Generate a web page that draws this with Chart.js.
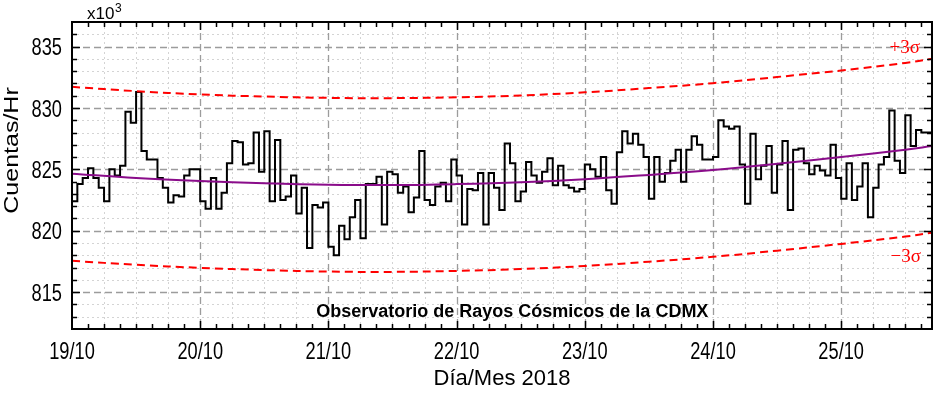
<!DOCTYPE html>
<html><head><meta charset="utf-8">
<script src="https://cdn.jsdelivr.net/npm/chart.js@4"></script>
<style>html,body{margin:0;padding:0;background:#fff}canvas{display:block}</style>
</head><body>
<canvas id="c" width="942" height="396"></canvas>
<script>
// ---- data ----
const dayLabels = ['19/10', '20/10', '21/10', '22/10', '23/10', '24/10', '25/10'];
const yTickValues = [815, 820, 825, 830, 835];
const yTitle = 'Cuentas/Hr';
const xTitle = 'Día/Mes 2018';
// hourly counts (x10^3 counts per hour), starting 19/10 00:00
const counts = [
  822.6, 822.4, 823.8, 824.3, 825.1, 824.3, 823.5, 822.4, 825.0, 824.5, 825.3, 829.7,
  828.8, 831.3, 826.5, 825.8, 825.8, 824.3, 823.5, 822.3, 822.9, 822.8, 824.5, 825.0,
  825.0, 822.4, 821.8, 824.3, 821.8, 823.1, 825.5, 827.3, 827.2, 825.4, 825.5, 828.0,
  824.8, 828.1, 822.4, 827.4, 822.5, 822.8, 824.5, 821.4, 823.5, 818.6, 822.1, 821.9,
  822.3, 818.7, 818.0, 820.4, 819.3, 821.1, 822.5, 819.4, 823.8, 823.8, 824.4, 820.5,
  824.8, 824.6, 823.1, 823.6, 821.5, 822.7, 826.5, 822.5, 822.1, 823.6, 823.9, 822.4,
  825.8, 824.5, 820.5, 823.4, 823.3, 824.7, 820.5, 824.7, 823.5, 821.7, 827.1, 825.5,
  822.4, 823.2, 825.6, 824.5, 823.9, 824.8, 825.9, 823.7, 825.3, 823.7, 823.5, 823.2,
  823.4, 825.4, 825.0, 824.4, 826.0, 823.3, 822.2, 826.4, 828.1, 827.1, 827.9, 827.0,
  826.0, 822.6, 826.0, 824.0, 824.7, 825.7, 826.6, 824.0, 826.6, 827.7, 827.0, 825.8,
  825.8, 826.0, 829.0, 828.5, 828.3, 828.5, 825.4, 822.2, 827.9, 824.2, 825.3, 826.9,
  823.1, 825.4, 827.3, 821.7, 826.6, 826.7, 825.5, 824.6, 825.3, 824.9, 824.5, 827.0,
  824.3, 822.6, 825.5, 822.5, 823.6, 825.5, 821.1, 823.5, 825.4, 826.0, 829.8, 825.7,
  824.7, 829.4, 826.9, 828.2, 828.0
];
// smooth fit and +-3 sigma bands, read every 12 h
const fitHours  = [0, 12, 24, 36, 48, 60, 72, 84, 96, 108, 120, 132, 144, 156, 161];
const fitValues = [824.65, 824.30, 824.05, 823.87, 823.75, 823.72, 823.80, 823.95, 824.20, 824.55, 824.95, 825.45, 826.00, 826.60, 826.90];
const upper3s   = [831.72, 831.37, 831.10, 830.93, 830.82, 830.80, 830.87, 831.02, 831.27, 831.62, 832.02, 832.52, 833.05, 833.67, 834.00];
const lower3s   = [817.55, 817.23, 816.98, 816.80, 816.68, 816.65, 816.73, 816.88, 817.13, 817.48, 817.88, 818.38, 818.93, 819.53, 819.84];

const totalHours = counts.length;
const stepPoints = counts.map((v, i) => ({x: i, y: v}));
stepPoints.push({x: totalHours, y: counts[counts.length - 1]});
const toXY = arr => arr.map((v, i) => ({x: fitHours[i], y: v}));

const SANS = "'Liberation Sans', Arial, sans-serif";
const SERIF = "'Liberation Serif', 'Times New Roman', serif";
const SQUEEZE = 0.76; // tick labels in the reference are tall and narrow

const decor = {
  id: 'decor',
  beforeDatasetsDraw(chart) {
    const {ctx, chartArea: a, scales: {x, y}} = chart;
    const hl = (py) => { ctx.beginPath(); ctx.moveTo(a.left, py); ctx.lineTo(a.right, py); ctx.stroke(); };
    const vl = (px) => { ctx.beginPath(); ctx.moveTo(px, a.top); ctx.lineTo(px, a.bottom); ctx.stroke(); };
    ctx.save();
    // minor grid (dotted)
    ctx.strokeStyle = '#d4d4d4'; ctx.lineWidth = 1; ctx.setLineDash([2, 3]);
    for (let h = 6; h < totalHours; h += 6) if (h % 24) vl(Math.round(x.getPixelForValue(h)) + 0.5);
    for (let v = 813; v <= 836; v++) if (v % 5) hl(Math.round(y.getPixelForValue(v)) + 0.5);
    // major grid (dashed)
    ctx.strokeStyle = '#9c9c9c'; ctx.lineWidth = 1.3; ctx.setLineDash([7, 4]);
    dayLabels.forEach((_, i) => { if (i) vl(Math.round(x.getPixelForValue(i * 24)) + 0.5); });
    yTickValues.forEach(v => hl(Math.round(y.getPixelForValue(v)) + 0.5));
    ctx.restore();
  },
  afterDatasetsDraw(chart) {
    const {ctx, chartArea: a, scales: {x, y}} = chart;
    ctx.save();
    ctx.setLineDash([]);
    ctx.strokeStyle = '#000'; ctx.lineWidth = 2;
    ctx.strokeRect(a.left, a.top, a.right - a.left, a.bottom - a.top);
    // inward ticks
    ctx.lineWidth = 1.5;
    for (let h = 3; h < totalHours; h += 3) {
      const px = Math.round(x.getPixelForValue(h)) + 0.5;
      const len = h % 24 ? 5 : 8;
      ctx.beginPath();
      ctx.moveTo(px, a.bottom); ctx.lineTo(px, a.bottom - len);
      ctx.moveTo(px, a.top); ctx.lineTo(px, a.top + len);
      ctx.stroke();
    }
    for (let v = 813; v <= 836; v++) {
      const py = Math.round(y.getPixelForValue(v)) + 0.5;
      const len = v % 5 ? 5 : 8;
      ctx.beginPath();
      ctx.moveTo(a.left, py); ctx.lineTo(a.left + len, py);
      ctx.moveTo(a.right, py); ctx.lineTo(a.right - len, py);
      ctx.stroke();
    }
    ctx.fillStyle = '#000';
    ctx.textBaseline = 'alphabetic';
    // tick labels (narrow)
    ctx.font = '24px ' + SANS;
    ctx.textAlign = 'right';
    yTickValues.forEach(v => {
      const py = y.getPixelForValue(v);
      ctx.save(); ctx.translate(a.left - 10, py + 8.6); ctx.scale(SQUEEZE, 1);
      ctx.fillText(String(v), 0, 0); ctx.restore();
    });
    ctx.textAlign = 'center';
    dayLabels.forEach((lab, i) => {
      const px = x.getPixelForValue(i * 24);
      ctx.save(); ctx.translate(px, a.bottom + 30); ctx.scale(SQUEEZE, 1);
      ctx.fillText(lab, 0, 0); ctx.restore();
    });
    // y axis title (rotated)
    ctx.save();
    ctx.translate(12, (a.top + a.bottom) / 2 - 25);
    ctx.rotate(-Math.PI / 2);
    ctx.scale(1, 0.82);
    ctx.textAlign = 'center'; ctx.textBaseline = 'middle';
    ctx.font = '25px ' + SANS;
    ctx.fillText(yTitle, 0, 1);
    ctx.restore();
    // multiplier
    ctx.textAlign = 'left';
    ctx.font = '17px ' + SANS;
    ctx.fillText('x10', a.left + 15, a.top - 3);
    const w = ctx.measureText('x10').width;
    ctx.font = '12px ' + SANS;
    ctx.fillText('3', a.left + 15 + w + 0.5, a.top - 10);
    // sigma labels
    ctx.fillStyle = '#ff0000';
    ctx.textAlign = 'right';
    ctx.font = '19px ' + SERIF;
    ctx.fillText('+3σ', a.right - 12, y.getPixelForValue(upper3s[upper3s.length - 1]) - 6);
    ctx.fillText('−3σ', a.right - 11, y.getPixelForValue(lower3s[lower3s.length - 1]) + 29);
    // observatory caption
    ctx.fillStyle = '#000';
    ctx.textAlign = 'center';
    ctx.font = 'bold 18px ' + SANS;
    ctx.fillText('Observatorio de Rayos Cósmicos de la CDMX', a.left + (a.right - a.left) * 0.512, a.bottom - 12);
    ctx.restore();
  }
};

new Chart(document.getElementById('c'), {
  type: 'line',
  data: {
    datasets: [
      {data: toXY(upper3s), borderColor: '#ff0000', borderWidth: 2, borderDash: [8, 5], pointRadius: 0, tension: 0.4, fill: false},
      {data: toXY(lower3s), borderColor: '#ff0000', borderWidth: 2, borderDash: [8, 5], pointRadius: 0, tension: 0.4, fill: false},
      {data: toXY(fitValues), borderColor: '#8a0c8a', borderWidth: 2, pointRadius: 0, tension: 0.4, fill: false},
      {data: stepPoints, borderColor: '#000000', borderWidth: 2, pointRadius: 0, stepped: 'after', fill: false}
    ]
  },
  options: {
    responsive: false,
    animation: false,
    devicePixelRatio: 1,
    layout: {padding: {top: 22, right: 10, left: 0, bottom: 0}},
    plugins: {legend: {display: false}, tooltip: {enabled: false}},
    scales: {
      x: {
        type: 'linear', min: 0, max: totalHours,
        grid: {display: false}, border: {display: false},
        afterBuildTicks: s => { s.ticks = dayLabels.map((_, i) => ({value: i * 24})); },
        afterFit: s => { s.height = 67; },
        ticks: {display: false},
        title: {display: true, text: xTitle, color: '#000',
                font: {family: SANS, size: 22}, padding: {top: 0, bottom: 4}}
      },
      y: {
        type: 'linear', min: 812, max: 837,
        grid: {display: false}, border: {display: false},
        afterBuildTicks: s => { s.ticks = yTickValues.map(v => ({value: v})); },
        afterFit: s => { s.width = 72; },
        ticks: {display: false},
        title: {display: false}
      }
    }
  },
  plugins: [decor]
});
</script>
</body></html>
